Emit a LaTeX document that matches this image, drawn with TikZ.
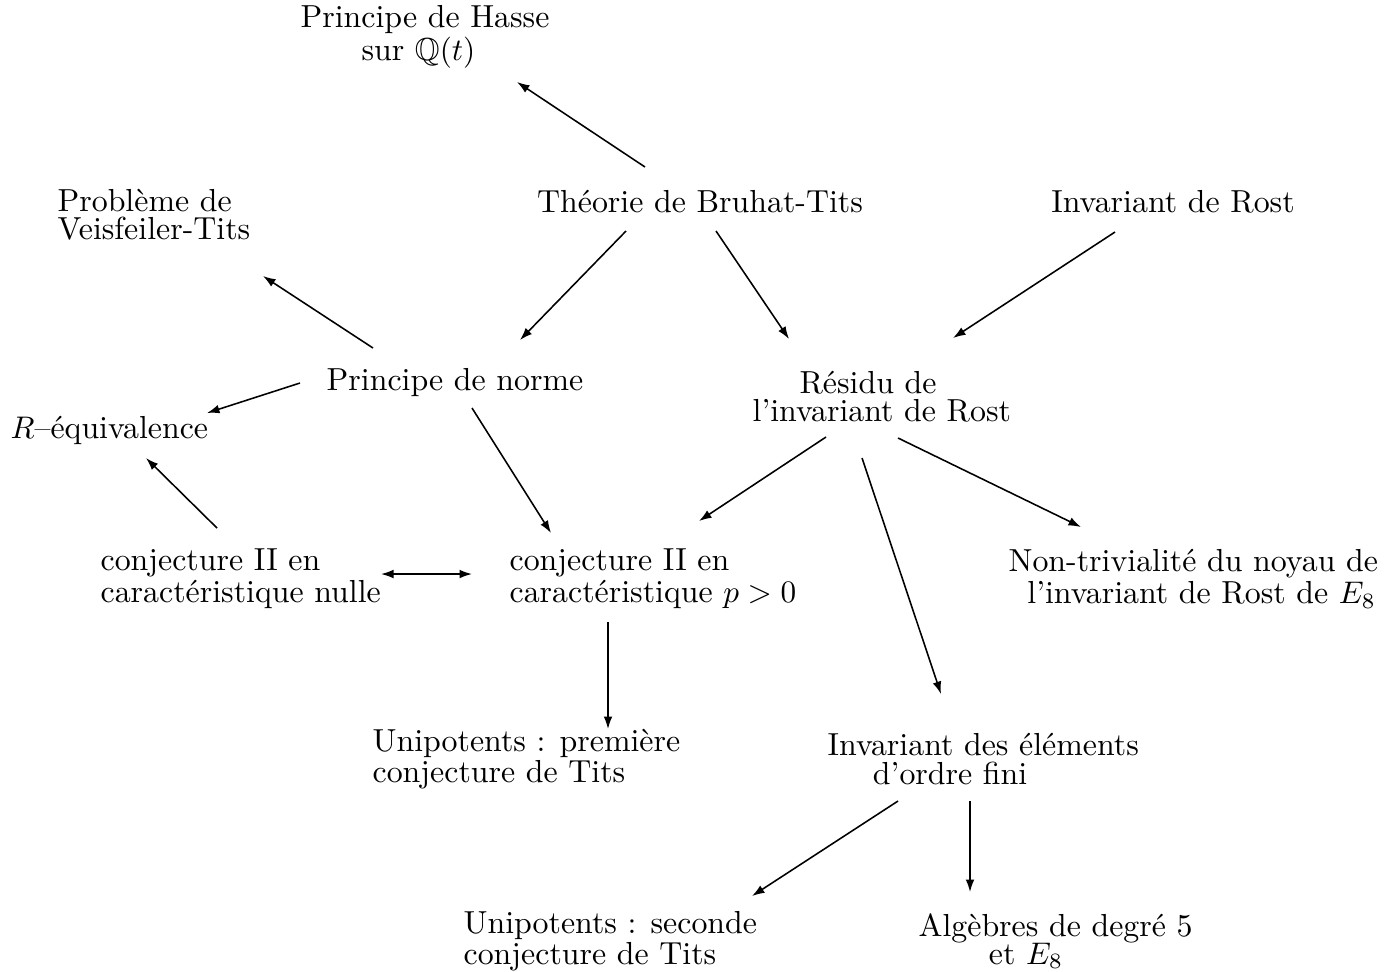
\documentclass[tikz,border=0pt]{standalone}
\usepackage{fontspec}
\usepackage{amssymb}
\usetikzlibrary{arrows.meta,calc}
\begin{document}
\begin{tikzpicture}[x=0.32pt,y=-0.32pt,
  lbl/.style={inner sep=0pt,font=\fontsize{10.2pt}{9pt}\selectfont},
  lblL/.style={lbl,align=left,anchor=west},
  lblC/.style={lbl,align=center},
  arr/.style={line width=0.5pt,-{Latex[length=4pt,width=2.8pt]}},
  darr/.style={line width=0.5pt,{Latex[length=4pt,width=2.8pt]}-{Latex[length=4pt,width=2.8pt]}}]
\useasboundingbox (0,0) rectangle (1393,971);
\node[lblL] (hasse) at (300,37) {Principe de Hasse\\\hspace*{19.5pt}sur $\mathbb{Q}(t)$};
\node[lblL] (veis) at (57,215) {Problème de\\Veisfeiler-Tits};
\node[lblC] (bruhat) at (700,202) {Théorie de Bruhat-Tits};
\node[lblC] (rost) at (1173,202) {Invariant de Rost};
\node[lblC] (norme) at (455,383) {Principe de norme};
\node[lblL] (residu) at (752,397) {\hspace*{15pt}Résidu de\\l’invariant de Rost};
\node[lblL] (requiv) at (10,430) {$R$–équivalence};
\node[lblL] (conjnul) at (100,579) {conjecture II en\\caractéristique nulle};
\node[lblL] (conjp) at (509,579) {conjecture II en\\caractéristique $p>0$};
\node[lblL] (nontriv) at (1008,579) {Non-trivialité du noyau de\\\hspace*{6pt}l’invariant de Rost de $E_8$};
\node[lblL] (unip1) at (372,759) {Unipotents : première\\conjecture de Tits};
\node[lblL] (invel) at (827,759) {Invariant des éléments\\\hspace*{14.5pt}d’ordre fini};
\node[lblL] (unip2) at (463,941) {Unipotents : seconde\\conjecture de Tits};
\node[lblL] (alg) at (918,941) {Algèbres de degré 5\\\hspace*{22.5pt}et $E_8$};

\draw[arr] ($(bruhat)+(-55,-35)$) -- ($(hasse.west)+(217,45)$);
\draw[arr] ($(bruhat)+(-74,29)$) -- ($(norme)+(65,-43)$);
\draw[arr] ($(bruhat)+(16,29)$) -- ($(residu.west)+(37,-58)$);
\draw[arr] ($(rost)+(-58,30)$) -- ($(residu.west)+(201,-59)$);
\draw[arr] ($(norme)+(-82,-35)$) -- ($(veis.west)+(206,61)$);
\draw[arr] ($(norme)+(-155,0)$) -- ($(requiv.west)+(197,-17)$);
\draw[arr] ($(conjnul.west)+(117,-51)$) -- ($(requiv.west)+(136,28)$);
\draw[arr] ($(norme)+(17,25)$) -- ($(conjp.west)+(42,-46)$);
\draw[arr] ($(residu.west)+(74,40)$) -- ($(conjp.west)+(190,-58)$);
\draw[arr] ($(residu.west)+(146,41)$) -- ($(nontriv.west)+(73,-52)$);
\draw[arr] ($(residu.west)+(110,61)$) -- ($(invel.west)+(114,-65)$);
\draw[darr] ($(conjnul.west)+(281,-5)$) -- ($(conjp.west)+(-37,-5)$);
\draw[arr] ($(conjp.west)+(99,43)$) -- ($(unip1.west)+(236,-30)$);
\draw[arr] ($(invel.west)+(71,42)$) -- ($(unip2.west)+(289,-45)$);
\draw[arr] ($(invel.west)+(143,42)$) -- ($(alg.west)+(52,-49)$);
\end{tikzpicture}
\end{document}
